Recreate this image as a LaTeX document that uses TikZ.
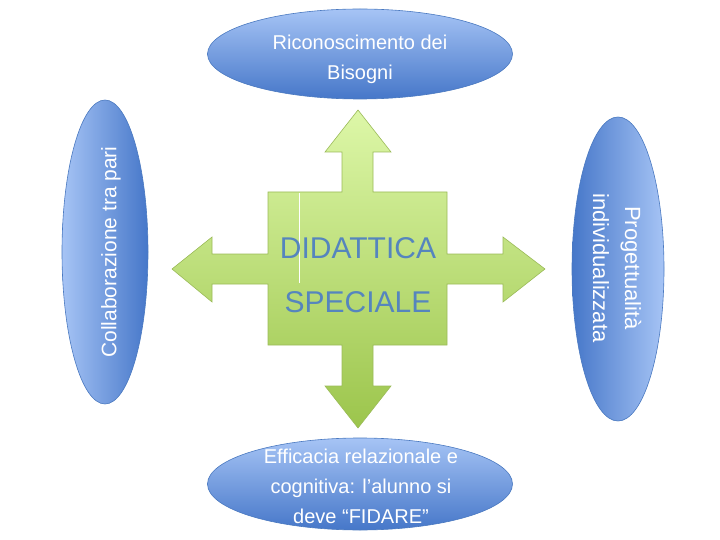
\documentclass[tikz,border=0pt]{standalone}
\usepackage{fontspec}
\setmainfont{Liberation Sans}
\usetikzlibrary{shapes.geometric}
\definecolor{elllight}{HTML}{A6C4F5}
\definecolor{elldark}{HTML}{4677C9}
\definecolor{ellborder}{HTML}{4A79C0}
\definecolor{crosslight}{HTML}{DDF7A8}
\definecolor{crossdark}{HTML}{9CC54C}
\definecolor{crossborder}{HTML}{9BBB59}
\definecolor{maintext}{HTML}{5585BE}
\tikzset{
  bubble/.style={ellipse, draw=ellborder, line width=0.6pt, inner sep=0pt,
    text=white, align=center, font=\fontsize{20}{30}\selectfont},
  vshade/.style={top color=elllight, bottom color=elldark},
  crossshape/.style={draw=crossborder, line width=0.6pt,
    top color=crosslight, bottom color=crossdark},
  title/.style={text=maintext, font=\fontsize{30}{54}\selectfont, align=center}
}
\begin{document}
\begin{tikzpicture}[x=1pt,y=-1pt]
\useasboundingbox (0,0) rectangle (720,540);
% central cross with four arrows
\path[crossshape] (358,110) -- (391,152) -- (373,152) -- (373,192) -- (447,192) -- (447,254)
  -- (503,254) -- (503,237) -- (545,269) -- (503,302) -- (503,284) -- (447,284)
  -- (447,345) -- (373,345) -- (373,386) -- (391,386) -- (358,428) -- (325,386)
  -- (342,386) -- (342,345) -- (268,345) -- (268,284) -- (212,284) -- (212,302)
  -- (172,269) -- (212,237) -- (212,254) -- (268,254) -- (268,192) -- (342,192)
  -- (342,152) -- (325,152) -- cycle;
\draw[white, line width=0.7pt] (299,193) -- (299,283);
\node[title] (center) at (358,275) {DIDATTICA\\SPECIALE};
% four ellipses
\node[bubble, vshade, minimum width=305pt, minimum height=90pt] (top) at (360,54) {};
\node[text=white, align=center, font=\fontsize{20}{30}\selectfont] (toptext) at (360,59)
  {Riconoscimento dei\\Bisogni};
\node[bubble, vshade, minimum width=305pt, minimum height=92pt] (bottom) at (360,484) {};
\node[text=white, align=center, font=\fontsize{20}{30}\selectfont] (bottomtext) at (361,486)
  {Efficacia relazionale e\\cognitiva: l’alunno si\\deve “FIDARE”};
\node[bubble, left color=elllight, right color=elldark, minimum width=86pt, minimum height=304pt] (left) at (105,252) {};
\node[text=white, rotate=90, font=\fontsize{21}{30}\selectfont] (lefttext) at (111,252)
  {Collaborazione tra pari};
\node[bubble, left color=elldark, right color=elllight, minimum width=92pt, minimum height=304pt] (right) at (618,269) {};
\node[text=white, rotate=-90, align=center, font=\fontsize{22}{32}\selectfont] (righttext) at (617,268)
  {Progettualità\\individualizzata};
\end{tikzpicture}
\end{document}
